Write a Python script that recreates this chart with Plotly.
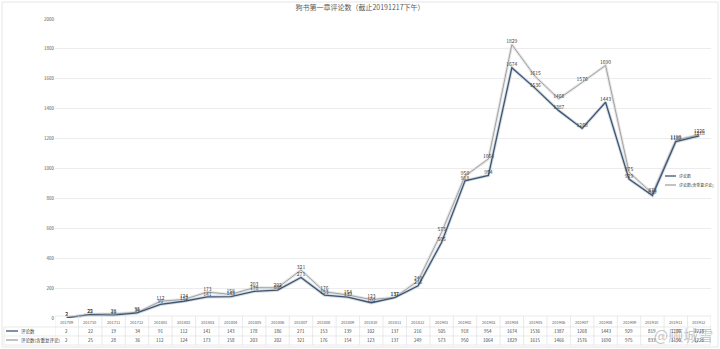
import plotly.graph_objects as go

categories = ['201709','201710','201711','201712','201801','201802','201803','201804','201805','201806',
              '201807','201808','201809','201810','201811','201812','201901','201902','201903','201904',
              '201905','201906','201907','201908','201909','201910','201911','201912']
series1_name = '评论数'
series2_name = '评论数(含重复评论)'
series1 = [2,22,19,34,91,112,141,143,178,186,271,153,139,102,137,216,505,918,954,1674,1536,1387,1268,1443,929,819,1180,1218]
series2 = [2,25,28,36,112,124,173,158,203,202,321,176,154,123,137,249,573,950,1064,1829,1615,1466,1576,1690,975,833,1190,1226]
y_ticks = [0,200,400,600,800,1000,1200,1400,1600,1800,2000]
title_text = '狗书第一章评论数（截止20191217下午）'

W, H = 720, 349
L, R, T, B = 55, 9, 19, 31
PH = H - T - B
PW = W - L - R
FONT = 'Noto Sans CJK SC, Noto Sans, sans-serif'
C1 = '#3e5670'
C2 = '#a3a3a3'

def py(p):  # pixel y -> paper y
    return (H - B - p) / PH

def px(p):  # pixel x -> paper x
    return (p - L) / PW

xs = list(range(len(categories)))
fig = go.Figure()
# halo underlays
fig.add_trace(go.Scatter(x=xs, y=series2, mode='lines', line=dict(color='#e6e6e6', width=3.0),
                         showlegend=False, hoverinfo='skip'))
fig.add_trace(go.Scatter(x=xs, y=series1, mode='lines', line=dict(color='#d3dbe4', width=3.2),
                         showlegend=False, hoverinfo='skip'))
fig.add_trace(go.Scatter(x=xs, y=series2, mode='lines+text', name=series2_name,
                         line=dict(color=C2, width=1.0),
                         text=[str(v) for v in series2], textposition='top center',
                         textfont=dict(size=5, color='#404040', family=FONT), showlegend=False))
fig.add_trace(go.Scatter(x=xs, y=series1, mode='lines+text', name=series1_name,
                         line=dict(color=C1, width=1.3),
                         text=[str(v) for v in series1], textposition='top center',
                         textfont=dict(size=5, color='#404040', family=FONT), showlegend=False))

ann = []
shapes = []
# data table
row_y = [322, 331, 340]
lines_y = [316, 327, 336, 345]
for i, c in enumerate(categories):
    ann.append(dict(x=i, y=py(row_y[0]), xref='x', yref='paper', text=c, showarrow=False,
                    font=dict(size=4, color='#595959', family=FONT), yanchor='middle'))
    ann.append(dict(x=i, y=py(row_y[1]), xref='x', yref='paper', text=str(series1[i]), showarrow=False,
                    font=dict(size=4.5, color='#404040', family=FONT), yanchor='middle'))
    ann.append(dict(x=i, y=py(row_y[2]), xref='x', yref='paper', text=str(series2[i]), showarrow=False,
                    font=dict(size=4.5, color='#404040', family=FONT), yanchor='middle'))
for i in range(len(categories) + 1):
    shapes.append(dict(type='line', xref='x', yref='paper', x0=i - 0.5, x1=i - 0.5,
                       y0=py(lines_y[0]), y1=py(lines_y[-1]), line=dict(color='#dcdcdc', width=0.6)))
for k, ly in enumerate(lines_y):
    shapes.append(dict(type='line', xref='paper', yref='paper', x0=px(4) if k > 0 else 0, x1=1,
                       y0=py(ly), y1=py(ly), line=dict(color='#dcdcdc', width=0.6)))
shapes.append(dict(type='line', xref='paper', yref='paper', x0=px(4), x1=px(4),
                   y0=py(lines_y[1]), y1=py(lines_y[-1]), line=dict(color='#dcdcdc', width=0.6)))
# legend keys in table
for ry, col, nm in [(row_y[1], C1, series1_name), (row_y[2], C2, series2_name)]:
    shapes.append(dict(type='line', xref='paper', yref='paper', x0=px(6), x1=px(18),
                       y0=py(ry), y1=py(ry), line=dict(color=col, width=1.3)))
    ann.append(dict(x=px(19), y=py(ry), xref='paper', yref='paper', text=nm, showarrow=False,
                    xanchor='left', yanchor='middle', font=dict(size=4.5, color='#404040', family=FONT)))
# right-hand legend
for ry, col, nm in [(176, C1, series1_name), (185, C2, series2_name)]:
    shapes.append(dict(type='line', xref='paper', yref='paper', x0=px(665), x1=px(676),
                       y0=py(ry), y1=py(ry), line=dict(color=col, width=1.3)))
    ann.append(dict(x=px(677), y=py(ry), xref='paper', yref='paper', text=nm, showarrow=False,
                    xanchor='left', yanchor='middle', font=dict(size=4, color='#404040', family=FONT)))
# chart frame
shapes.append(dict(type='rect', xref='paper', yref='paper', x0=px(2), x1=px(718), y0=py(347), y1=py(2),
                   line=dict(color='#e0e0e0', width=0.8)))
# watermark
ann.append(dict(x=px(715), y=py(334), xref='paper', yref='paper', text='@顾城雪', showarrow=False,
                xanchor='right', yanchor='middle', font=dict(size=15, color='rgba(110,110,110,0.4)', family=FONT)))

fig.update_layout(
    width=W, height=H,
    margin=dict(l=L, r=R, t=T, b=B),
    paper_bgcolor='white', plot_bgcolor='white',
    title=dict(text=title_text, x=0.5, xanchor='center', y=1 - 8 / H, yanchor='middle',
               font=dict(size=7, color='#595959', family=FONT)),
    xaxis=dict(range=[-0.5, len(categories) - 0.5], showticklabels=False, showgrid=False,
               zeroline=False, showline=False, fixedrange=True),
    yaxis=dict(range=[0, 2000], tickvals=y_ticks, ticktext=[str(v) for v in y_ticks],
               showgrid=True, gridcolor='#ececec', gridwidth=0.8, zeroline=False,
               tickfont=dict(size=4.5, color='#595959', family=FONT), ticks='', ticklen=3),
    annotations=ann, shapes=shapes, showlegend=False,
)
fig.write_html('out.html')
